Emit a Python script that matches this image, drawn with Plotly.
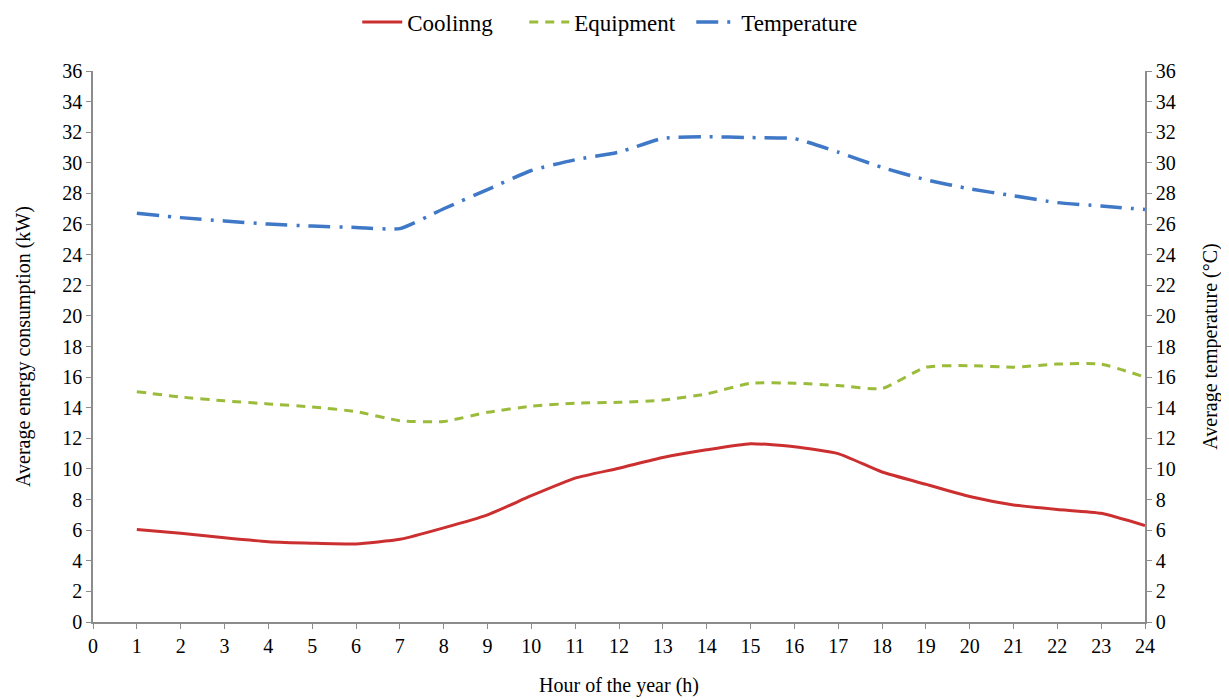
import plotly.graph_objects as go

# hourly averages
hours = list(range(1, 25))
cooling = [6.05, 5.8, 5.5, 5.25, 5.15, 5.1, 5.4, 6.15, 7.0, 8.25, 9.4, 10.05, 10.75, 11.25, 11.65, 11.45,
           11.0, 9.8, 9.0, 8.2, 7.65, 7.35, 7.1, 6.3]
equipment = [15.05, 14.7, 14.45, 14.25, 14.05, 13.75, 13.15, 13.1, 13.7, 14.1, 14.3, 14.35, 14.5, 14.9, 15.6,
             15.6, 15.45, 15.25, 16.65, 16.75, 16.65, 16.85, 16.85, 16.0]
temperature = [26.7, 26.42, 26.2, 26.0, 25.87, 25.78, 25.7, 27.0, 28.25, 29.5, 30.2, 30.7, 31.6, 31.7, 31.65,
               31.58, 30.7, 29.7, 28.9, 28.3, 27.85, 27.4, 27.18, 26.95]

x_ticks = list(range(0, 25))
y_ticks = list(range(0, 37, 2))

FONT = "Liberation Serif"
AXIS_GREY = "#8c8c8c"

fig = go.Figure()
fig.add_trace(go.Scatter(x=hours, y=cooling, name="Coolinng", mode="lines",
                         line=dict(color="#cc2f2f", width=3, shape="spline", smoothing=0.5)))
fig.add_trace(go.Scatter(x=hours, y=equipment, name="Equipment", mode="lines",
                         line=dict(color="#9bbb3b", width=3, dash="9px,7px", shape="spline", smoothing=0.5)))
fig.add_trace(go.Scatter(x=hours, y=temperature, name="Temperature", mode="lines", yaxis="y2",
                         line=dict(color="#3f78c6", width=3.5, dash="22px,9px,3px,9px", shape="spline", smoothing=0.5)))

axis_common = dict(
    range=[0, 36], tickvals=y_ticks, showgrid=False, zeroline=False,
    showline=True, linecolor=AXIS_GREY, linewidth=1.5,
    ticks="outside", ticklen=5, tickcolor=AXIS_GREY,
    tickfont=dict(family=FONT, size=20, color="black"),
    automargin=False,
)

fig.update_layout(
    width=1229, height=700,
    paper_bgcolor="white", plot_bgcolor="white",
    margin=dict(l=85, r=92, t=63, b=86),
    font=dict(family=FONT, size=20, color="black"),
    showlegend=True,
    legend=dict(orientation="h", x=0.488, xanchor="center", xref="container",
                y=0.98, yanchor="middle", yref="container",
                font=dict(family=FONT, size=23), itemwidth=40, entrywidth=112,
                tracegroupgap=0),
    xaxis=dict(
        range=[0, 24], tickvals=x_ticks, showgrid=False, zeroline=False,
        showline=True, linecolor=AXIS_GREY, linewidth=1.5,
        ticks="outside", ticklen=5, tickcolor=AXIS_GREY,
        tickfont=dict(family=FONT, size=20, color="black"),
        automargin=False,
        title=dict(text="Hour of the year (h)", font=dict(family=FONT, size=20), standoff=22),
    ),
    yaxis=dict(**axis_common,
               title=dict(text="Average energy consumption (kW)", font=dict(family=FONT, size=20), standoff=26)),
    yaxis2=dict(**axis_common, overlaying="y", side="right",
                title=dict(text="Average temperature (°C)", font=dict(family=FONT, size=20), standoff=28)),
)

fig.write_html("out.html")
